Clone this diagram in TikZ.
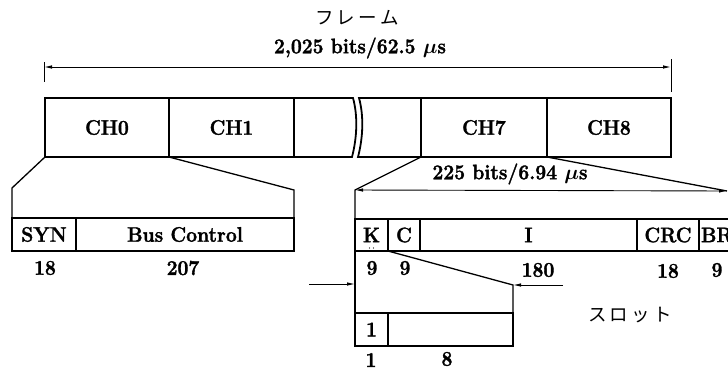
\documentclass[tikz,border=0pt]{standalone}
\usepackage{amsmath}
\usepackage{fontspec}
\setmainfont{Latin Modern Roman}[BoldFeatures={FakeBold=1.6,FakeStretch=0.92}]
\newfontfamily\jpfont{Noto Sans CJK JP}
\usetikzlibrary{arrows.meta}
\newcommand\dgfont{\fontsize{21}{24}\selectfont\bfseries}
\newcommand\dgjp{\jpfont\fontsize{18.5}{22}\selectfont}
\begin{document}
\begin{tikzpicture}[x=1pt,y=-1pt,
  cell/.style={draw, line width=1.8pt, inner sep=0pt, outer sep=0pt, anchor=north west, font=\dgfont},
  lab/.style={inner sep=0pt, font=\dgfont},
  jlab/.style={inner sep=0pt, font=\dgjp},
  slant/.style={line width=1.3pt},
  dim/.style={line width=0.9pt, {Latex[length=8pt,width=3.5pt]}-{Latex[length=8pt,width=3.5pt]}},
  arr/.style={line width=0.9pt, -{Latex[length=8pt,width=3.5pt]}},
  tick/.style={line width=0.8pt}]
\useasboundingbox (0,0) rectangle (728,370);

% ---- title ----
\node[jlab] (frame) at (357,18) {フ\,レ\,ー\,ム};
\node[lab] (t2025) at (360,48) {2,025 bits/62.5 $\boldsymbol{\mu}$s};
\coordinate (fl) at (44,67);
\coordinate (fr) at (671,67);
\draw[tick] (44,62) -- (44,82);
\draw[tick] (671,59) -- (671,92);
\draw[dim] (fl) -- (fr);

% ---- frame row ----
\node[cell, minimum width=124pt, minimum height=59pt] (ch0) at (45,98) {CH0};
\node[cell, minimum width=125pt, minimum height=59pt] (ch1) at (169,98) {CH1};
\node[cell, minimum width=126pt, minimum height=59pt] (ch7) at (421,98) {CH7};
\node[cell, minimum width=124pt, minimum height=59pt] (ch8) at (547,98) {CH8};
% broken cells
\draw[line width=1.8pt] (ch1.north east) -- (353,98) .. controls (358,116) and (357,138) .. (352,157) -- (ch1.south east);
\draw[line width=1.8pt] (ch7.north west) -- (359,98) .. controls (364,116) and (363,138) .. (358,157) -- (ch7.south west);

% ---- CH0 expansion ----
\node[cell, minimum width=64pt, minimum height=33pt] (syn) at (12,218) {SYN};
\node[cell, minimum width=218pt, minimum height=33pt] (bus) at (76,218) {Bus Control};
\coordinate (l0) at (12,188);
\coordinate (r0) at (294,190);
\draw[slant] (ch0.south west) -- (l0) -- (syn.north west);
\draw[slant] (ch1.south west) -- (r0) -- (bus.north east);
\node[lab] (n18a) at (45,268) {18};
\node[lab] (n207) at (183,268) {207};

% ---- CH7 expansion ----
\coordinate (l7) at (355,190);
\coordinate (r7) at (727,191);
\node[cell, minimum width=33pt, minimum height=32pt] (k) at (355,219) {K};
\node[cell, minimum width=32pt, minimum height=32pt] (c) at (388,219) {C};
\node[cell, minimum width=217pt, minimum height=32pt] (i) at (420,219) {I};
\node[cell, minimum width=62pt, minimum height=32pt] (crc) at (637,219) {CRC};
\node[cell, minimum height=32pt, text width=41pt, inner xsep=2pt, align=left] (br) at (699,219) {BR};
\fill (369.5,248) circle (0.7pt);
\fill (373.5,248) circle (0.7pt);
\draw[slant] (ch7.south west) -- (l7) -- (k.north west);
\draw[slant] (ch8.south west) -- (r7);
\draw[dim] (l7) -- (r7);
\node[lab] (t225) at (510,174) {225 bits/6.94 $\boldsymbol{\mu}$s};
\node[lab] (n9a) at (372,268) {9};
\node[lab] (n9b) at (405,268) {9};
\node[lab] (n180) at (538,270) {180};
\node[lab] (n18b) at (668,271) {18};
\node[lab] (n9c) at (717,270) {9};

% ---- slot expansion ----
\node[cell, minimum width=33pt, minimum height=33pt] (b1) at (355,313) {1};
\node[cell, minimum width=125pt, minimum height=33pt] (b8) at (388,313) {};
\coordinate (sr) at (513,285);
\draw[slant] (k.south west) -- (b1.north west);
\draw[slant] (k.south east) -- (sr) -- (b8.north east);
\coordinate (al) at (309,284);
\coordinate (ar) at (563,285);
\draw[arr] (al) -- (k.south west |- al);
\draw[arr] (ar) -- (sr);
\node[lab] (n1) at (371,360) {1};
\node[lab] (n8) at (447,359) {8};
\node[jlab] (slot) at (630,315) {ス\,ロ\,ッ\,ト};
\end{tikzpicture}
\end{document}
